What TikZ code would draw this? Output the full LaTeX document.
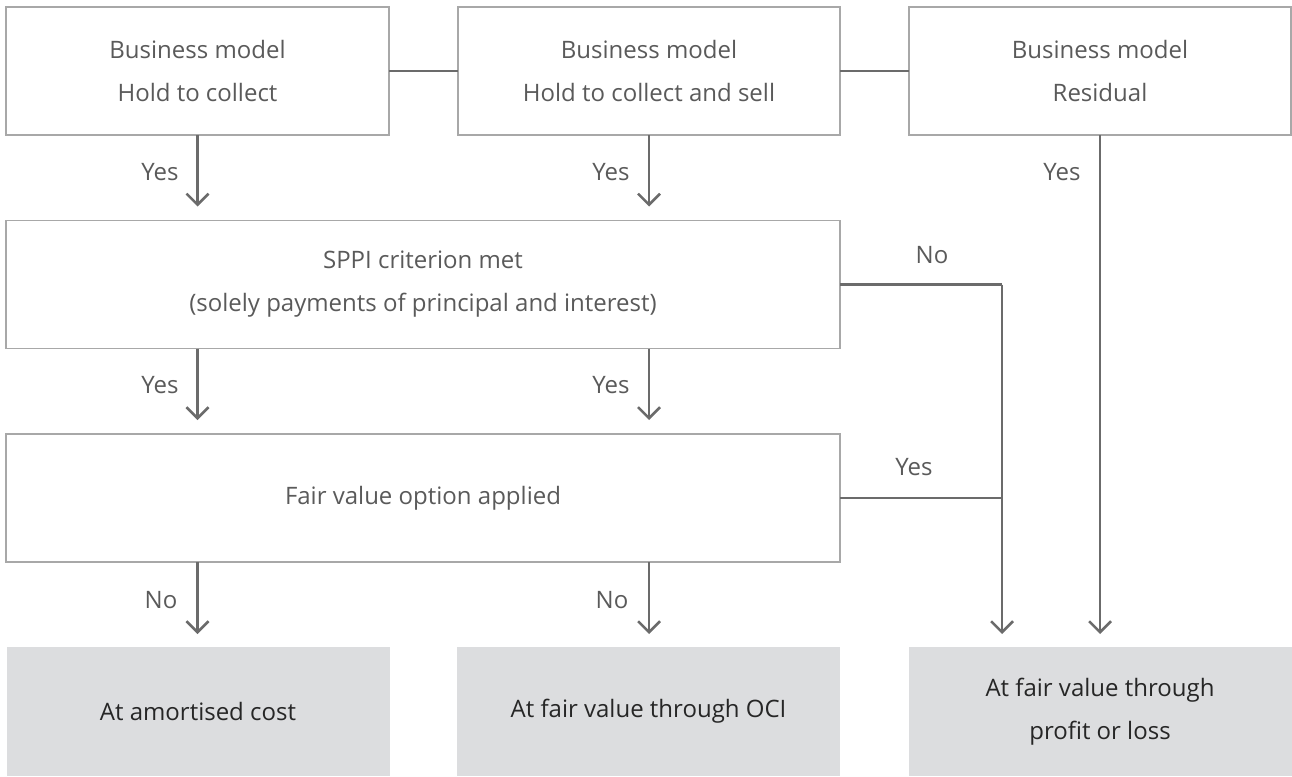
\documentclass[tikz,border=0pt]{standalone}
\usepackage{fontspec}
\setmainfont{Open Sans}
\usetikzlibrary{arrows.meta,calc}
\definecolor{boxline}{HTML}{A8A8A8}
\definecolor{conn}{HTML}{6B6B6B}
\definecolor{txt}{HTML}{5A5A5A}
\definecolor{outfill}{HTML}{DCDDDF}
\definecolor{outtxt}{HTML}{262626}
\tikzset{
  every node/.style={font=\fontsize{24}{43}\selectfont},
  qbox/.style={draw=boxline, line width=1.6pt, fill=white, align=center,
    text=txt, minimum height=128pt, inner sep=0pt, outer sep=0pt},
  obox/.style={fill=outfill, align=center, text=outtxt,
    minimum height=129pt, minimum width=383pt, inner sep=0pt, outer sep=0pt},
  link/.style={draw=conn, line width=2.5pt},
  flow/.style={draw=conn, line width=2.5pt, -{Straight Barb[length=11pt,width=22pt,line width=2.5pt]}},
  lab/.style={text=txt, inner sep=0pt}
}
\begin{document}
\begin{tikzpicture}[x=1pt,y=-1pt]
\useasboundingbox (0,0) rectangle (1292,776);
% top row
\node[qbox, minimum width=383pt] (b1) at (197.5,71) {Business model\\Hold to collect};
\node[qbox, minimum width=382pt] (b2) at (649,71) {Business model\\Hold to collect and sell};
\node[qbox, minimum width=382pt] (b3) at (1100,71) {Business model\\Residual};
% decisions
\node[qbox, minimum width=834pt] (sppi) at (423,284.5) {SPPI criterion met\\(solely payments of principal and interest)};
\node[qbox, minimum width=834pt] (fv) at (423,498) {Fair value option applied};
% outcomes
\node[obox] (o1) at (198,711.5) {At amortised cost};
\node[obox] (o2) at (648.5,711.5) {At fair value through OCI};
\node[obox] (o3) at (1100,711.5) {At fair value through\\profit or loss};
% links between top boxes
\draw[link] (b1.east) -- (b2.west);
\draw[link] (b2.east) -- (b3.west);
% junction
\coordinate (j1) at (1002,284.5);
\coordinate (j2) at (1002,498);
% arrows
\draw[flow, shorten >=14pt] (b1.south) -- (b1.south |- sppi.north);
\draw[flow, shorten >=14pt] (b2.south) -- (b2.south |- sppi.north);
\draw[flow, shorten >=13pt] (b3.south) -- (o3.north);
\draw[flow, shorten >=14pt] (b1.south |- sppi.south) -- (b1.south |- fv.north);
\draw[flow, shorten >=14pt] (b2.south |- sppi.south) -- (b2.south |- fv.north);
\draw[flow, shorten >=13pt] (b1.south |- fv.south) -- (b1.south |- o1.north);
\draw[flow, shorten >=13pt] (b2.south |- fv.south) -- (b2.south |- o2.north);
\draw[link] (sppi.east) -- (j1);
\draw[link] (fv.east) -- (j2);
\draw[flow, shorten >=13pt] (j1) -- (j1 |- o3.north);
% labels
\node[lab] (l1) at (160,172) {Yes};
\node[lab] (l2) at (611,172) {Yes};
\node[lab] (l3) at (1062,172) {Yes};
\node[lab] (l4) at (932,255) {No};
\node[lab] (l5) at (160,385) {Yes};
\node[lab] (l6) at (611,385) {Yes};
\node[lab] (l7) at (914,467) {Yes};
\node[lab] (l8) at (161,600) {No};
\node[lab] (l9) at (612,600) {No};
\end{tikzpicture}
\end{document}
